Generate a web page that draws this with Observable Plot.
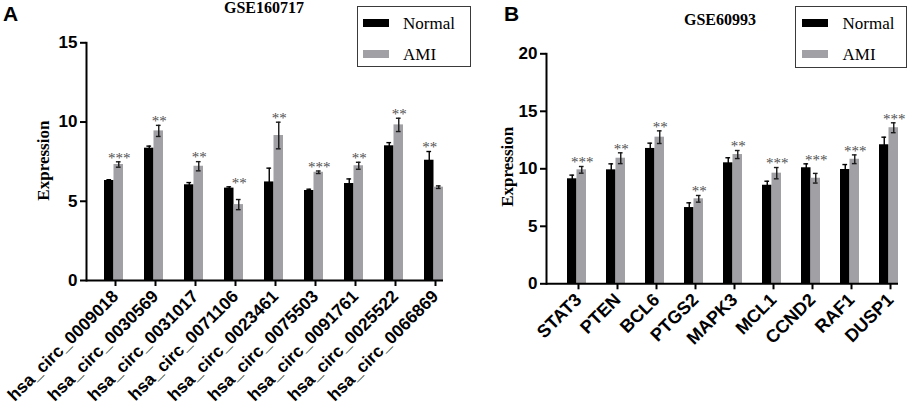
<!DOCTYPE html>
<html>
<head>
<meta charset="utf-8">
<script src="https://cdn.jsdelivr.net/npm/d3@7"></script>
<script src="https://cdn.jsdelivr.net/npm/@observablehq/plot@0.6"></script>
<style>
  html, body { margin: 0; padding: 0; background: #fff; }
  #wrap { position: relative; width: 913px; height: 411px; overflow: hidden; background: #fff; }
  #wrap svg { position: absolute; top: 0; }
  .letter { position: absolute; font: bold 21px/1 "Liberation Sans", Arial, sans-serif; color: #000; }
  .title { position: absolute; font: bold 16px/1 "Liberation Serif", "Times New Roman", serif; color: #000; transform: translateX(-50%); white-space: nowrap; }
  .legend { position: absolute; border: 1.5px solid #3a3a3a; box-sizing: border-box; background: #fff; }
  .sw { position: absolute; width: 26px; height: 8px; }
  .lt { position: absolute; font: 17px/1 "Liberation Serif", "Times New Roman", serif; color: #000; transform: translateY(-50%); white-space: nowrap; }
</style>
</head>
<body>
<div id="wrap"></div>
<script>
// ---------- Panel A: GSE160717 ----------
const genesA = ["hsa_circ_0009018", "hsa_circ_0030569", "hsa_circ_0031017", "hsa_circ_0071106", "hsa_circ_0023461", "hsa_circ_0075503", "hsa_circ_0091761", "hsa_circ_0025522", "hsa_circ_0066869"];
const normalA = [6.31, 8.35, 6.04, 5.83, 6.22, 5.68, 6.12, 8.50, 7.59];
const normalErrA = [0.05, 0.13, 0.14, 0.08, 0.87, 0.08, 0.29, 0.20, 0.55];
const amiA = [7.32, 9.44, 7.21, 4.79, 9.15, 6.83, 7.24, 9.82, 5.89];
const amiErrA = [0.17, 0.35, 0.29, 0.32, 0.84, 0.08, 0.22, 0.42, 0.08];
const sigA = ["***", "**", "**", "**", "**", "***", "**", "**", "**"];
const sigOnA = ["AMI", "AMI", "AMI", "AMI", "AMI", "AMI", "AMI", "AMI", "Normal"];
const ticksA = [0, 5, 10, 15];

// ---------- Panel B: GSE60993 ----------
const genesB = ["STAT3", "PTEN", "BCL6", "PTGS2", "MAPK3", "MCL1", "CCND2", "RAF1", "DUSP1"];
const normalB = [9.13, 9.91, 11.77, 6.63, 10.52, 8.57, 10.09, 9.94, 12.09];
const normalErrB = [0.32, 0.52, 0.46, 0.41, 0.44, 0.35, 0.34, 0.43, 0.66];
const amiB = [9.91, 10.92, 12.75, 7.39, 11.24, 9.62, 9.18, 10.83, 13.57];
const amiErrB = [0.29, 0.47, 0.55, 0.29, 0.35, 0.49, 0.42, 0.38, 0.43];
const sigB = ["***", "**", "**", "**", "**", "***", "***", "***", "***"];
const sigOnB = ["AMI", "AMI", "AMI", "AMI", "AMI", "AMI", "AMI", "AMI", "AMI"];
const ticksB = [0, 5, 10, 15, 20];

const groups = ["Normal", "AMI"];
const colors = {Normal: "#000000", AMI: "#a0a0a5"};

const serif = "'Liberation Serif', 'Times New Roman', serif";

function panel(cfg) {
  const rows = cfg.genes.flatMap((g, i) => [
    {gene: g, group: "Normal", value: cfg.normal[i], err: cfg.normalErr[i]},
    {gene: g, group: "AMI", value: cfg.ami[i], err: cfg.amiErr[i]}
  ]);
  const N = rows.filter(d => d.group === "Normal");
  const A = rows.filter(d => d.group === "AMI");
  const half = 9.5, q = 4.75;
  const stars = cfg.genes.map((g, i) => ({
    gene: g,
    text: cfg.sig[i],
    on: cfg.sigOn[i],
    top: Math.max(cfg.normal[i] + cfg.normalErr[i], cfg.ami[i] + cfg.amiErr[i])
  }));
  const errMarks = (data, dx, stroke, capL, capR) => [
    Plot.ruleX(data, {x: "gene", y1: d => d.value - d.err, y2: d => d.value + d.err, dx, stroke, strokeWidth: 1.4}),
    Plot.tickY(data, {x: "gene", y: d => d.value + d.err, insetLeft: capL, insetRight: capR, stroke, strokeWidth: 1.4}),
    Plot.tickY(data, {x: "gene", y: d => d.value - d.err, insetLeft: capL, insetRight: capR, stroke, strokeWidth: 1.4})
  ];
  const starStyle = {fontSize: 15, fontWeight: "normal", fontFamily: serif, fill: "#505050", dy: -4};
  return Plot.plot({
    width: cfg.width,
    height: 411,
    marginLeft: cfg.marginLeft,
    marginRight: cfg.marginRight,
    marginTop: cfg.marginTop,
    marginBottom: cfg.marginBottom,
    style: {fontFamily: "'Liberation Sans', Arial, sans-serif", fontWeight: "bold", fontSize: "17px", color: "#000", background: "transparent"},
    x: {type: "band", domain: cfg.genes, paddingInner: cfg.pi, paddingOuter: cfg.po, align: cfg.align, axis: null},
    y: {domain: cfg.yDomain, axis: null},
    marks: [
      Plot.barY(N, {x: "gene", y: "value", fill: colors.Normal, insetRight: half}),
      Plot.barY(A, {x: "gene", y: "value", fill: colors.AMI, insetLeft: half}),
      ...errMarks(N, -q, "#000", 2.4, half + 2.4),
      ...errMarks(A, q, "#1a1a1a", half + 2.4, 2.4),
      Plot.text(stars.filter(d => d.on === "AMI"), {x: "gene", y: "top", text: "text", dx: q + 0.5, ...starStyle}),
      Plot.text(stars.filter(d => d.on === "Normal"), {x: "gene", y: "top", text: "text", dx: -q + 0.5, ...starStyle}),
      Plot.ruleY([0], {stroke: "#000", strokeWidth: 2}),
      Plot.frame({anchor: "left", stroke: "#000", strokeWidth: 2}),
      Plot.axisY({ticks: cfg.yTicks, tickSize: 6, tickPadding: 3, strokeWidth: 2, label: null, fontSize: 17, fontWeight: "bold"}),
      Plot.axisX({tickSize: 6, tickPadding: 7, strokeWidth: 2, tickRotate: -45, label: null, fontSize: cfg.xFont, fontWeight: "bold", dx: 1.5}),
      Plot.text(["Expression"], {frameAnchor: "left", textAnchor: "middle", rotate: -90, dx: cfg.labelDx, dy: cfg.labelDy, fontFamily: serif, fontWeight: "bold", fontSize: 17})
    ]
  });
}

const wrap = document.getElementById("wrap");

const svgA = panel({
  genes: genesA, normal: normalA, normalErr: normalErrA, ami: amiA, amiErr: amiErrA, sig: sigA, sigOn: sigOnA,
  width: 460, marginLeft: 86, marginRight: 17, marginTop: 42.3, marginBottom: 131,
  pi: 0.528, po: 0.199, align: 0.97, yDomain: [0, 15], yTicks: ticksA, labelDx: -43, labelDy: -1, xFont: 17.4
});
svgA.style.left = "0px";
wrap.appendChild(svgA);

const svgB = panel({
  genes: genesB, normal: normalB, normalErr: normalErrB, ami: amiB, amiErr: amiErrB, sig: sigB, sigOn: sigOnB,
  width: 453, marginLeft: 86, marginRight: 15, marginTop: 53.3, marginBottom: 127.7,
  pi: 0.514, po: 0.26, align: 0.99, yDomain: [0, 20], yTicks: ticksB, labelDx: -39, labelDy: -2, xFont: 18
});
svgB.style.left = "460px";
wrap.appendChild(svgB);

// Panel letters and titles
function addDiv(cls, text, left, top) {
  const d = document.createElement("div");
  d.className = cls; d.textContent = text;
  d.style.left = left + "px"; d.style.top = top + "px";
  wrap.appendChild(d);
  return d;
}
addDiv("letter", "A", 3, 3);
addDiv("letter", "B", 504, 3);
addDiv("title", "GSE160717", 264, 0);
addDiv("title", "GSE60993", 720, 12);

// Legends
function legend(left, top, w, h, swLeft, txtLeft) {
  const box = document.createElement("div");
  box.className = "legend";
  Object.assign(box.style, {left: left + "px", top: top + "px", width: w + "px", height: h + "px"});
  const rowsY = [15.5, 47];
  groups.forEach((g, i) => {
    const sw = document.createElement("div");
    sw.className = "sw";
    Object.assign(sw.style, {left: swLeft + "px", top: (rowsY[i] - 4) + "px", background: colors[g]});
    box.appendChild(sw);
    const t = document.createElement("div");
    t.className = "lt"; t.textContent = g;
    Object.assign(t.style, {left: txtLeft + "px", top: rowsY[i] + "px"});
    box.appendChild(t);
  });
  wrap.appendChild(box);
}
legend(357, 6, 114, 61, 5, 45);
legend(795, 6, 112, 62, 5.5, 46.5);
</script>
</body>
</html>
